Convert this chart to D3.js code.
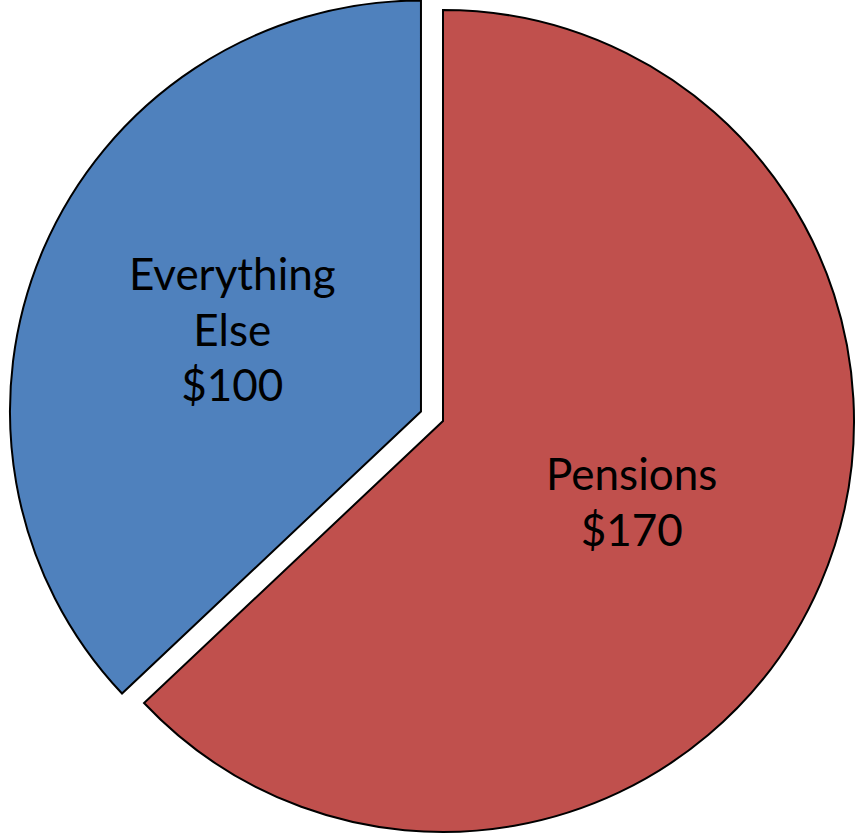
<!DOCTYPE html>
<html>
<head>
<meta charset="utf-8">
<script src="https://d3js.org/d3.v7.min.js"></script>
<style>
  body { margin: 0; background: #fff; }
  svg { display: block; }
</style>
</head>
<body>
<svg width="856" height="836"></svg>
<script>
// data
var labels = ["Pensions", "Everything Else"];
var values = [170, 100];
var colors = ["#C0504D", "#4F81BD"];
var exploded = [0, 24]; // pull-out distance in px

var svg = d3.select("svg"),
    cx = 443, cy = 421,
    radius = 411;

var pie = d3.pie().sort(null).value(function(d) { return d.value; });
var arc = d3.arc().innerRadius(0).outerRadius(radius);
var labelArc = d3.arc().innerRadius(radius * 0.5).outerRadius(radius * 0.5);

var data = labels.map(function(l, i) {
  return { label: l, value: values[i], color: colors[i], pull: exploded[i] };
});

var g = svg.append("g").attr("transform", "translate(" + cx + "," + cy + ")");

var slices = g.selectAll("g.slice")
  .data(pie(data))
  .enter().append("g")
  .attr("class", "slice")
  .attr("transform", function(d) {
    var a = (d.startAngle + d.endAngle) / 2;
    return "translate(" + (Math.sin(a) * d.data.pull) + "," + (-Math.cos(a) * d.data.pull) + ")";
  });

slices.append("path")
  .attr("d", arc)
  .attr("fill", function(d) { return d.data.color; })
  .attr("stroke", "#000")
  .attr("stroke-width", 2)
  .attr("stroke-linejoin", "miter");

// labels
var lineH = 56;
slices.append("text")
  .attr("font-family", "Lato, 'Open Sans', sans-serif")
  .attr("font-size", 44)
  .attr("fill", "#000")
  .attr("text-anchor", "middle")
  .attr("transform", function(d) {
    var c = labelArc.centroid(d);
    return "translate(" + c[0] + "," + c[1] + ")";
  })
  .each(function(d) {
    var words = d.data.label === "Everything Else" ? ["Everything", "Else"] : [d.data.label];
    var lines = words.concat(["$" + d.data.value]);
    var t = d3.select(this);
    var y0 = -(lines.length - 1) * lineH / 2;
    lines.forEach(function(s, i) {
      t.append("tspan")
        .attr("x", 0)
        .attr("y", y0 + i * lineH)
        .attr("dy", "0.35em")
        .text(s);
    });
  });
</script>
</body>
</html>
